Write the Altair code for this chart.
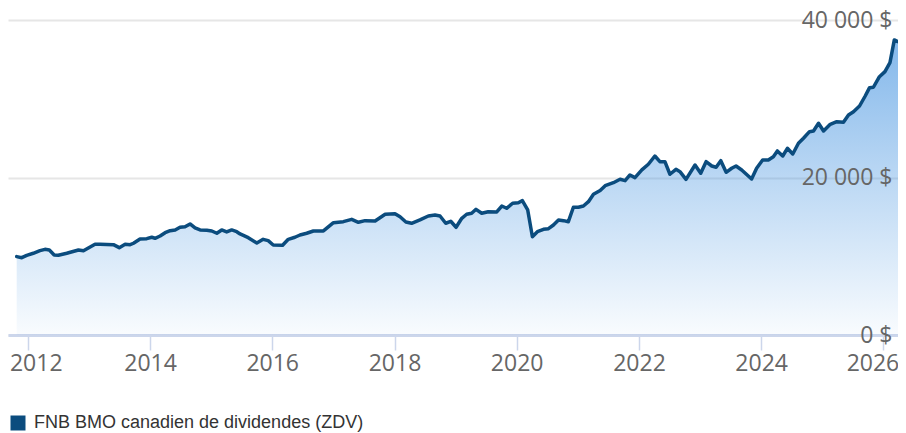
import altair as alt
import pandas as pd

series_name = "FNB BMO canadien de dividendes (ZDV)"

dates = [
    "2011-10-27", "2011-11-26", "2011-12-26", "2012-02-03", "2012-03-14", "2012-04-13",
    "2012-05-09", "2012-06-07", "2012-07-02", "2012-08-21", "2012-10-30", "2012-11-29",
    "2013-02-06", "2013-03-08", "2013-05-27", "2013-07-01", "2013-08-05", "2013-09-04",
    "2013-09-24", "2013-11-02", "2013-12-12", "2014-01-11", "2014-01-31", "2014-03-02",
    "2014-04-01", "2014-05-01", "2014-05-31", "2014-06-29", "2014-07-29", "2014-08-28",
    "2014-09-27", "2014-10-27", "2014-12-06", "2015-01-05", "2015-02-04", "2015-03-05",
    "2015-04-04", "2015-05-04", "2015-06-03", "2015-06-23", "2015-08-11", "2015-10-01",
    "2015-11-08", "2015-12-08", "2016-01-07", "2016-03-03", "2016-04-06", "2016-05-16",
    "2016-06-15", "2016-07-25", "2016-09-03", "2016-11-02", "2017-01-01", "2017-03-01",
    "2017-04-20", "2017-05-30", "2017-07-09", "2017-09-07", "2017-11-06", "2018-01-04",
    "2018-02-03", "2018-03-10", "2018-04-13", "2018-06-02", "2018-07-22", "2018-08-31",
    "2018-09-30", "2018-11-03", "2018-12-03", "2019-01-04", "2019-02-07", "2019-03-08",
    "2019-04-07", "2019-05-03", "2019-06-06", "2019-07-15", "2019-09-04", "2019-10-04",
    "2019-11-02", "2019-12-08", "2020-01-11", "2020-02-04", "2020-03-07", "2020-04-04",
    "2020-05-04", "2020-06-09", "2020-07-09", "2020-08-08", "2020-09-07", "2020-10-07",
    "2020-11-05", "2020-12-05", "2021-01-04", "2021-02-03", "2021-03-05", "2021-04-04",
    "2021-05-14", "2021-06-13", "2021-08-01", "2021-09-10", "2021-10-10", "2021-11-08",
    "2021-12-08", "2022-01-18", "2022-02-26", "2022-04-06", "2022-05-06", "2022-06-05",
    "2022-07-05", "2022-08-10", "2022-09-03", "2022-10-09", "2022-12-02", "2023-01-05",
    "2023-02-06", "2023-03-12", "2023-04-07", "2023-05-05", "2023-06-06", "2023-07-09",
    "2023-08-04", "2023-09-07", "2023-11-05", "2023-12-05", "2024-01-10", "2024-02-13",
    "2024-03-14", "2024-04-07", "2024-05-09", "2024-06-06", "2024-07-08", "2024-08-11",
    "2024-09-10", "2024-10-16", "2024-11-09", "2024-12-09", "2025-01-08", "2025-02-17",
    "2025-03-28", "2025-05-07", "2025-06-06", "2025-07-06", "2025-08-11", "2025-09-14",
    "2025-10-10", "2025-11-02", "2025-12-08", "2026-01-10", "2026-02-09", "2026-03-07",
    "2026-04-20",
]

values = [
    9950, 9820, 10120, 10380, 10710, 10880,
    10800, 10160, 10120, 10380, 10800, 10710,
    11520, 11520, 11470, 11090, 11520, 11470,
    11650, 12190, 12230, 12410, 12280, 12570,
    12990, 13250, 13340, 13680, 13750, 14100,
    13590, 13340, 13300, 13210, 12920, 13340,
    13080, 13340, 13120, 12830, 12360, 11680,
    12150, 11980, 11430, 11390, 12150, 12410,
    12700, 12920, 13210, 13210, 14260, 14390,
    14690, 14310, 14520, 14480, 15330, 15410,
    15020, 14350, 14190, 14610, 15110, 15240,
    15110, 14190, 14440, 13680, 14820, 15330,
    15460, 15960, 15460, 15660, 15620, 16380,
    16090, 16730, 16800, 17060, 15880, 12480,
    13120, 13420, 13500, 13970, 14610, 14520,
    14390, 16220, 16220, 16380, 16930, 17870,
    18350, 18960, 19340, 19770, 19600, 20320,
    19980, 20960, 21680, 22730, 22010, 22010,
    20410, 21040, 20740, 19770, 21590, 20540,
    22010, 21460, 21300, 22140, 20660, 21170,
    21460, 20960, 19810, 21170, 22230, 22230,
    22640, 23370, 22730, 23710, 22990, 24350,
    24980, 25820, 25910, 26890, 25910, 26760,
    27090, 27010, 27940, 28360, 29080, 30350,
    31410, 31460, 32800, 33440, 34580, 37470,
    37050,
]

tick_years = [2012, 2014, 2016, 2018, 2020, 2022, 2024, 2026]
y_ticks = [0, 20000, 40000]

df = pd.DataFrame({"date": dates, "value": values, "series": series_name})

LINE_COLOR = "#0b4c7e"
LABEL_COLOR = "#666666"
AXIS_FONT = "Open Sans"

x_ticks = [alt.DateTime(year=y, month=1, date=1, utc=True) for y in tick_years]
x_domain = [
    alt.DateTime(year=2011, month=9, date=5, utc=True),
    alt.DateTime(year=2026, month=3, date=29, utc=True),
]

x_enc = alt.X(
    "date:T",
    scale=alt.Scale(type="utc", domain=x_domain),
    axis=alt.Axis(
        values=x_ticks,
        format="%Y",
        title=None,
        grid=False,
        domainColor="#ccd6eb",
        domainWidth=3,
        tickColor="#ccd6eb",
        tickSize=15,
        tickWidth=1.5,
        labelFont=AXIS_FONT,
        labelFontSize=23,
        labelColor=LABEL_COLOR,
        labelPadding=2,
        labelOverlap=False,
        labelBound=False,
        labelFlush=False,
        labelOffset={"expr": "utcyear(datum.value) == 2012 ? 8 : (utcyear(datum.value) == 2026 ? -11 : 0)"},
    ),
)

y_scale = alt.Scale(domain=[0, 40000], nice=False, zero=True)

base = alt.Chart(df)

area = base.mark_area(
    fill=alt.Gradient(
        gradient="linear",
        stops=[
            alt.GradientStop(color="rgba(66,146,224,0.65)", offset=0),
            alt.GradientStop(color="rgba(66,146,224,0.03)", offset=1),
        ],
        x1=0, x2=0, y1=0, y2=1,
    ),
    line=False,
).encode(
    x=x_enc,
    y=alt.Y(
        "value:Q",
        scale=y_scale,
        axis=alt.Axis(
            orient="left",
            values=y_ticks,
            grid=True,
            gridColor="#e6e6e6",
            gridWidth=2,
            labels=False,
            ticks=False,
            domain=False,
            title=None,
            zindex=0,
        ),
    ),
)

line = base.mark_line(
    strokeWidth=3.5, strokeJoin="round", strokeCap="round"
).encode(
    x=x_enc,
    y=alt.Y(
        "value:Q",
        scale=y_scale,
        axis=alt.Axis(
            orient="right",
            values=y_ticks,
            grid=False,
            ticks=False,
            domain=False,
            title=None,
            labelAlign="right",
            labelBaseline="middle",
            labelPadding=-6,
            labelFont=AXIS_FONT,
            labelFontSize=23,
            labelColor=LABEL_COLOR,
            labelExpr="replace(format(datum.value, ','), regexp(',', 'g'), ' ') + ' $'",
            zindex=1,
        ),
    ),
    color=alt.Color(
        "series:N",
        scale=alt.Scale(range=[LINE_COLOR]),
        legend=alt.Legend(
            title=None,
            orient="none",
            legendX=1,
            legendY=394,
            padding=0,
            symbolType="square",
            symbolSize=225,
            symbolFillColor=LINE_COLOR,
            symbolStrokeColor=LINE_COLOR,
            symbolStrokeWidth=0,
            symbolOpacity=1,
            labelFont="Liberation Sans",
            labelFontSize=18,
            labelColor="#333333",
            labelOffset=7,
            labelLimit=600,
        ),
    ),
)

chart = (
    alt.layer(area, line)
    .resolve_axis(y="independent")
    .properties(
        width=890,
        height=315,
        autosize=alt.AutoSizeParams(type="none"),
        padding={"left": 0, "top": 12, "right": 0, "bottom": 98},
        background="white",
    )
    .configure_view(stroke=None)
)

chart.save("out.html", embed_options={"renderer": "svg", "actions": False})
